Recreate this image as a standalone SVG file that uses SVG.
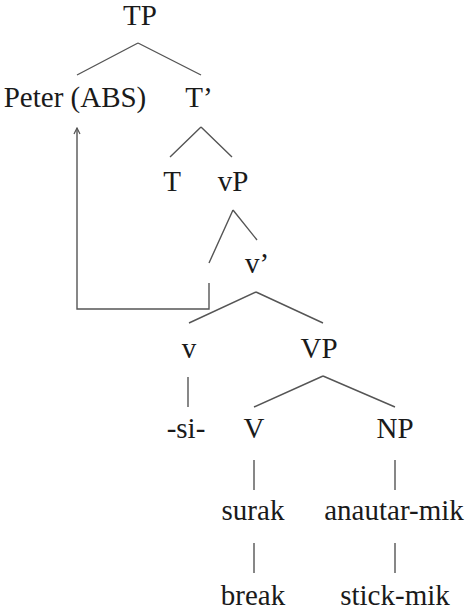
<svg xmlns="http://www.w3.org/2000/svg" width="470" height="611" viewBox="0 0 470 611">
<defs>
<style>
text{font-size:29px;fill:#1a1a1a;text-anchor:middle}
.e{stroke:#555;stroke-width:1.4;fill:none}
</style>
<marker id="ah" viewBox="0 0 8 8" refX="7" refY="4" markerWidth="8" markerHeight="8" markerUnits="userSpaceOnUse" orient="auto">
<path d="M1,1 L7,4 L1,7" fill="none" stroke="#555" stroke-width="1.2"/>
</marker>
</defs>
<rect width="470" height="611" fill="#fff"/>
<g id="edges">
<path class="e" d="M138,43 L77,75 M138,43 L201,75"/>
<path class="e" d="M201,127 L170,157 M201,127 L232,157"/>
<path class="e" d="M233,210 L209,263 M233,210 L257,240"/>
<path class="e" d="M256,292 L189,323 M256,292 L323,323"/>
<path class="e" d="M188,377 L188,407"/>
<path class="e" d="M323,376 L254,407 M323,376 L395,407"/>
<path class="e" d="M254,460 L254,490 M395,460 L395,490"/>
<path class="e" d="M254,543 L254,573 M395,543 L395,573"/>
<path class="e" d="M209,283 V309 H77 V128" marker-end="url(#ah)"/>
</g>
<g font-family="Liberation Serif, DejaVu Serif, serif">
<g id="TP"><text x="140" y="25">TP</text></g>
<g id="Peter"><text x="75" y="107">Peter (ABS)</text></g>
<g id="Tbar"><text x="199" y="107">T’</text></g>
<g id="T"><text x="172" y="191">T</text></g>
<g id="vP"><text x="233" y="191">vP</text></g>
<g id="vbar"><text x="257" y="273">v’</text></g>
<g id="v"><text x="189" y="358">v</text></g>
<g id="VP"><text x="319" y="358">VP</text></g>
<g id="si"><text x="186" y="438">-si-</text></g>
<g id="V"><text x="254" y="438">V</text></g>
<g id="NP"><text x="395" y="438">NP</text></g>
<g id="surak"><text x="253" y="520">surak</text></g>
<g id="anautar"><text x="394" y="520">anautar-mik</text></g>
<g id="break"><text x="253" y="605">break</text></g>
<g id="stick"><text x="395" y="605">stick-mik</text></g>
</g>
</svg>
